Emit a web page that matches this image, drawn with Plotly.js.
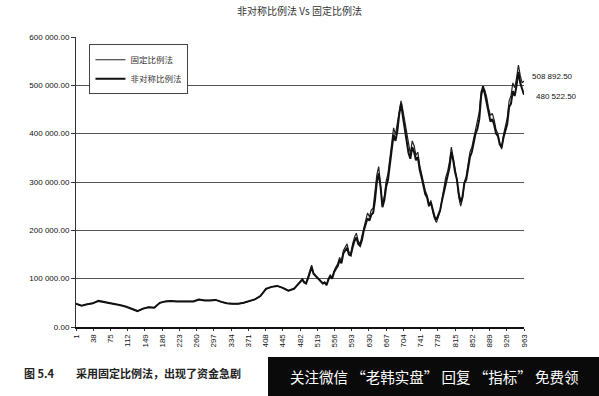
<!DOCTYPE html>
<html><head><meta charset="utf-8">
<script src="https://cdn.plot.ly/plotly-3.0.1.min.js"></script>
<style>html,body{margin:0;padding:0;background:#fff}#chart{width:599px;height:396px}</style>
</head><body><div id="chart"></div>
<script>
const seriesNames = ["固定比例法", "非对称比例法"];
const xIndex = [1,13,25,37,49,61,73,85,97,109,121,133,145,157,169,181,193,205,217,229,241,253,265,277,289,301,313,325,337,349,361,373,385,397,409,421,433,445,457,469,
475,479,483,487,491,495,499,503,507,511,515,519,523,527,531,535,539,543,547,551,555,559,563,567,571,575,579,583,587,591,595,599,603,607,611,615,619,623,627,631,635,639,643,647,651,655,659,663,667,671,675,679,683,687,691,695,699,703,707,711,715,719,723,727,731,735,739,743,747,751,755,759,763,767,771,775,779,783,787,791,795,799,803,807,811,815,819,823,827,831,835,839,843,847,851,855,859,863,867,871,875,879,883,887,891,895,899,903,907,911,915,919,923,927,931,935,939,943,947,951,955,959,963];
// 非对称比例法 (thick line)
const asymValues = [48000,44000,47000,49000,54000,52000,50000,47000,45000,42000,37000,33000,38000,41000,40000,50000,53000,54000,53000,53000,54000,53000,57000,55000,55000,56000,52000,49000,48000,48000,50000,53000,57000,64000,79000,83000,85000,81000,75000,79000,
85000,88000,93000,98000,92000,90000,100000,112000,124000,110000,106000,102000,99000,94000,90000,92000,87000,98000,105000,100000,113000,120000,126000,138000,132000,152000,158000,164000,150000,148000,165000,178000,185000,172000,168000,180000,200000,212000,225000,220000,232000,236000,262000,300000,318000,290000,248000,262000,290000,305000,335000,375000,398000,385000,405000,440000,462000,435000,410000,385000,360000,348000,372000,362000,345000,352000,325000,310000,290000,275000,268000,250000,258000,240000,228000,222000,232000,242000,262000,280000,300000,312000,330000,362000,345000,320000,305000,275000,258000,270000,298000,305000,325000,352000,362000,380000,400000,410000,430000,478000,498000,482000,462000,440000,425000,430000,418000,400000,395000,378000,372000,392000,405000,420000,455000,462000,488000,478000,500000,528000,505000,490000,480522.5];
// 固定比例法 (thin line)
const fixedValues = [48000,44000,47000,49000,54000,52000,50000,47000,45000,42000,37000,33000,38000,41000,40000,50000,53000,54000,53000,53000,54000,53000,57000,55000,55000,56000,52000,49000,48000,48000,50000,53000,57000,64000,79000,83000,85000,81000,75000,79000,
86000,89000,95000,100000,94000,91000,103000,116000,128000,112000,108000,104000,100000,95000,90000,93000,86000,100000,108000,102000,116000,124000,131000,144000,136000,158000,165000,172000,155000,152000,172000,186000,194000,178000,172000,188000,210000,222000,236000,228000,242000,246000,275000,315000,332000,298000,252000,270000,302000,318000,350000,390000,412000,398000,420000,448000,468000,448000,425000,398000,372000,358000,385000,375000,355000,362000,335000,318000,296000,282000,272000,252000,262000,238000,224000,216000,228000,240000,265000,288000,310000,322000,342000,372000,352000,325000,305000,268000,250000,265000,300000,312000,335000,362000,372000,392000,412000,425000,445000,488000,495000,490000,475000,452000,438000,442000,428000,408000,400000,380000,368000,398000,415000,432000,468000,478000,505000,495000,515000,542000,520000,505000,508892.5];
const xTicks = [1,38,75,112,149,186,223,260,297,334,371,408,445,482,519,556,593,630,667,704,741,778,815,852,889,926,963];
const yTicks = [0,100000,200000,300000,400000,500000,600000];
const yTickText = ["0.00","100 000.00","200 000.00","300 000.00","400 000.00","500 000.00","600 000.00"];
const endLabels = ["508 892.50","480 522.50"];

const traces = [
  {x: xIndex, y: fixedValues, name: seriesNames[0], type: "scatter", mode: "lines",
   line: {color: "#222", width: 1.2}},
  {x: xIndex, y: asymValues, name: seriesNames[1], type: "scatter", mode: "lines",
   line: {color: "#111", width: 2}}
];
const tickFont = {family: "Liberation Sans, Arial, sans-serif", size: 8, color: "#111"};
const layout = {
  width: 599, height: 396,
  margin: {l: 76, r: 75, t: 37, b: 69},
  paper_bgcolor: "#fff", plot_bgcolor: "#fff",
  title: {text: "非对称比例法 Vs 固定比例法", font: {family: "Noto Sans CJK SC, serif", size: 10, color: "#333"},
          x: 0.5, xanchor: "center", y: 0.97, yanchor: "middle"},
  showlegend: true,
  legend: {x: 0.03, y: 0.975, xanchor: "left", yanchor: "top", bgcolor: "#fff",
           bordercolor: "#444", borderwidth: 1, font: {family: "Noto Sans CJK SC, sans-serif", size: 8.5, color: "#333"},
           itemwidth: 30, tracegroupgap: 0},
  xaxis: {range: [1, 963], tickvals: xTicks, ticktext: xTicks.map(String), tickangle: -90,
          tickfont: {family: "Liberation Sans, Arial, sans-serif", size: 8, color: "#111"},
          showgrid: false, zeroline: false, showline: true, linecolor: "#111", linewidth: 2,
          ticks: "outside", ticklen: 2, tickcolor: "#333"},
  yaxis: {range: [0, 600000], tickvals: yTicks, ticktext: yTickText, tickfont: tickFont,
          showgrid: true, gridcolor: "#555", gridwidth: 1, zeroline: false,
          showline: true, linecolor: "#333", linewidth: 1, ticks: "outside", ticklen: 4, tickcolor: "#333"},
  annotations: [
    {xref: "x", yref: "y", x: 963, y: fixedValues[fixedValues.length-1], text: endLabels[0], showarrow: false,
     xanchor: "left", xshift: 6, yshift: 5, font: tickFont},
    {xref: "x", yref: "y", x: 963, y: asymValues[asymValues.length-1], text: endLabels[1], showarrow: false,
     xanchor: "left", xshift: 10, yshift: -2, font: tickFont},
    {xref: "paper", yref: "paper", x: -0.1205, y: -0.1586, xanchor: "left", yanchor: "middle", showarrow: false,
     text: "<b>图 5.4　　采用固定比例法，出现了资金急剧</b>",
     font: {family: "Noto Sans CJK SC, sans-serif", size: 11, color: "#222"}},
    {xref: "paper", yref: "paper", x: 0.8, y: -0.1724, xanchor: "center", yanchor: "middle", showarrow: false,
     text: "关注微信 “老韩实盘” 回复 “指标” 免费领",
     font: {family: "Noto Sans CJK SC, sans-serif", size: 14.5, color: "#fff"}}
  ],
  shapes: [
    {type: "rect", xref: "paper", yref: "paper", x0: 0.4286, x1: 1.17, y0: -0.24, y1: -0.1034,
     fillcolor: "#0a0a0a", line: {width: 0}, layer: "above"}
  ]
};
Plotly.newPlot("chart", traces, layout, {displayModeBar: false, staticPlot: true});
</script></body></html>
